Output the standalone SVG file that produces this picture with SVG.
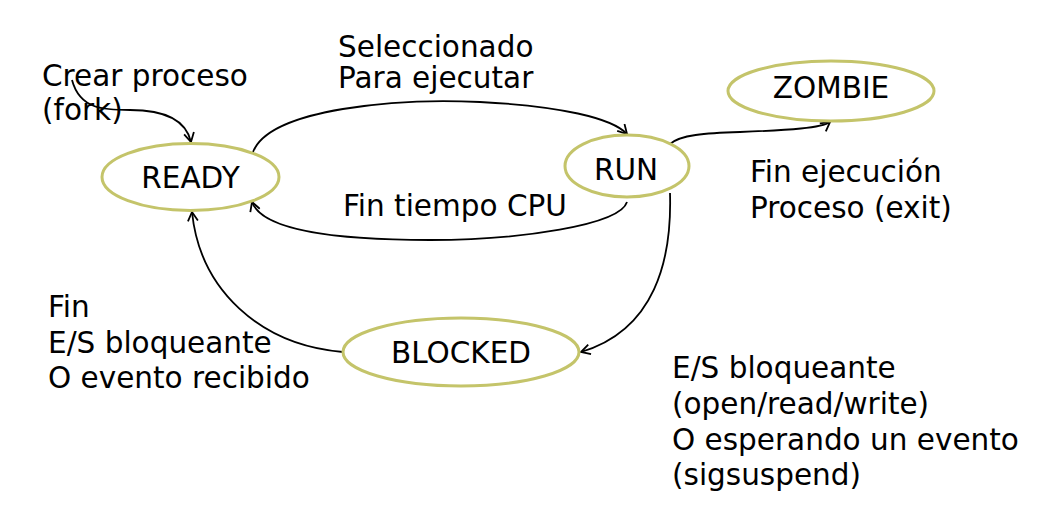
<svg xmlns="http://www.w3.org/2000/svg" width="1046" height="510" viewBox="0 0 1046 510">
<style>
.node{fill:#fff;stroke:#c4c46a;stroke-width:3}
.lbl{font-family:"DejaVu Sans",Verdana,sans-serif;font-size:29.5px;fill:#000}
.c{text-anchor:middle}
.edge{fill:none;stroke:#000;stroke-width:1.8;marker-end:url(#arr)}
</style>
<defs>
<marker id="arr" viewBox="0 0 12 12" refX="11" refY="6" markerWidth="12" markerHeight="12" markerUnits="userSpaceOnUse" orient="auto">
<path d="M2,1 L11,6 L2,11" fill="none" stroke="#000" stroke-width="1.8"/>
</marker>
</defs>
<rect width="1046" height="510" fill="#fff"/>
<g id="connectors">
<path class="edge" d="M72,80 C 80,110 105,110 130,110 C 165,110 186,120 191,142"/>
<path class="edge" d="M253,152 C 270,108 400,98 480,102 C 560,106 612,118 627,134"/>
<path class="edge" d="M627,202 C 620,225 520,240 430,240 C 330,240 262,230 252,202"/>
<path class="edge" d="M670,144 C 680,135 705,133 740,132 C 790,130 822,128 830,122"/>
<path class="edge" d="M670,193 C 672,260 655,330 581,352"/>
<path class="edge" d="M343,352 C 260,345 200,290 192,212"/>
</g>
<g id="ready"><ellipse class="node" cx="190.5" cy="177" rx="88.5" ry="33.5"/><text class="lbl c" x="190.5" y="188">READY</text></g>
<g id="run"><ellipse class="node" cx="627" cy="166" rx="62" ry="31"/><text class="lbl c" x="626" y="180">RUN</text></g>
<g id="zombie"><ellipse class="node" cx="831" cy="91" rx="103" ry="30"/><text class="lbl c" x="831" y="98">ZOMBIE</text></g>
<g id="blocked"><ellipse class="node" cx="461" cy="352" rx="118" ry="34"/><text class="lbl c" x="461" y="363">BLOCKED</text></g>
<g id="labels">
<text class="lbl" x="42" y="86">Crear proceso</text>
<text class="lbl" x="42" y="120">(fork)</text>
<text class="lbl" x="338" y="57">Seleccionado</text>
<text class="lbl" x="338" y="88">Para ejecutar</text>
<text class="lbl" x="343" y="216">Fin tiempo CPU</text>
<text class="lbl" x="750" y="182">Fin ejecución</text>
<text class="lbl" x="750" y="218">Proceso (exit)</text>
<text class="lbl" x="48" y="317">Fin</text>
<text class="lbl" x="48" y="353">E/S bloqueante</text>
<text class="lbl" x="48" y="388">O evento recibido</text>
<text class="lbl" x="672" y="378">E/S bloqueante</text>
<text class="lbl" x="672" y="414">(open/read/write)</text>
<text class="lbl" x="672" y="450">O esperando un evento</text>
<text class="lbl" x="672" y="485">(sigsuspend)</text>
</g>
</svg>
